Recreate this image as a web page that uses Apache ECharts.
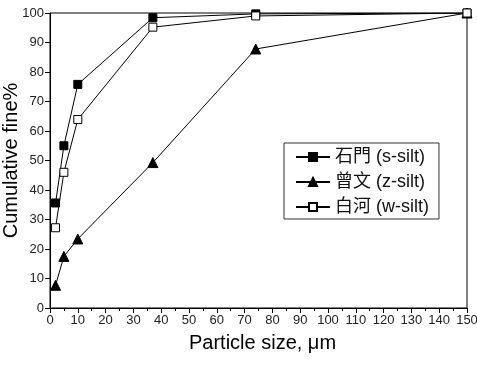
<!DOCTYPE html>
<html>
<head>
<meta charset="utf-8">
<script src="https://cdn.jsdelivr.net/npm/echarts@6/dist/echarts.min.js"></script>
<style>
  html, body { margin: 0; padding: 0; background: #fff; }
  #chart { width: 477px; height: 371px; }
</style>
</head>
<body>
<div id="chart"></div>
<script>
// particle size (μm) and cumulative fine (%)
var sizes = [2, 5, 10, 37, 74, 150];
var shimen = [35.6, 55.0, 75.8, 98.4, 99.7, 100];
var zengwen = [7.7, 17.5, 23.4, 49.3, 87.8, 100];
var baihe = [27.2, 46.0, 63.9, 95.2, 99.0, 100];
var names = ['石門 (s-silt)', '曾文 (z-silt)', '白河 (w-silt)'];

var font = 'Liberation Sans, Arial, Noto Sans CJK TC';

function pairs(ys) {
  return sizes.map(function (x, i) { return [x, ys[i]]; });
}

function line(name, ys, symbol, size, fill) {
  return {
    name: name,
    type: 'line',
    data: pairs(ys),
    symbol: symbol,
    symbolSize: size,
    showAllSymbol: true,
    lineStyle: { color: '#000', width: 1 },
    itemStyle: { color: fill, borderColor: '#000', borderWidth: 1 },
    emphasis: { disabled: true },
    animation: false
  };
}

var chart = echarts.init(document.getElementById('chart'));
chart.setOption({
  animation: false,
  grid: {
    left: 50, right: 10, top: 13, bottom: 63,
    containLabel: false, outerBoundsMode: 'none',
    show: true, borderColor: '#000', borderWidth: 1
  },
  legend: {
    left: 284, top: 143,
    orient: 'vertical',
    itemWidth: 34, itemHeight: 10, itemGap: 7,
    padding: [5, 10, 3, 11],
    borderColor: '#333', borderWidth: 1,
    textStyle: { fontFamily: font, fontSize: 18, color: '#111' },
    data: names
  },
  xAxis: {
    type: 'value', min: 0, max: 150, interval: 10,
    name: 'Particle size, μm', nameLocation: 'middle', nameGap: 25,
    nameMoveOverlap: false,
    nameTextStyle: { fontFamily: font, fontSize: 20, color: '#000', padding: [0, 0, 0, 8] },
    axisLine: { lineStyle: { color: '#000', width: 1 } },
    axisTick: { length: 5, lineStyle: { color: '#000' } },
    minorTick: { show: true, splitNumber: 2, length: 3, lineStyle: { color: '#000' } },
    axisLabel: { fontFamily: font, fontSize: 13, color: '#222', margin: 6 },
    splitLine: { show: false }
  },
  yAxis: {
    type: 'value', min: 0, max: 100, interval: 10,
    name: 'Cumulative fine%', nameLocation: 'middle', nameGap: 29,
    nameMoveOverlap: false,
    nameTextStyle: { fontFamily: font, fontSize: 20, color: '#000' },
    axisLine: { show: true, lineStyle: { color: '#000', width: 1 } },
    axisTick: { show: true, length: 5, lineStyle: { color: '#000' } },
    axisLabel: { fontFamily: font, fontSize: 13, color: '#222', margin: 6 },
    splitLine: { show: false }
  },
  series: [
    line(names[0], shimen, 'rect', 8, '#000'),
    line(names[1], zengwen, 'triangle', 10, '#000'),
    line(names[2], baihe, 'rect', 8, '#fff')
  ]
});
</script>
</body>
</html>
